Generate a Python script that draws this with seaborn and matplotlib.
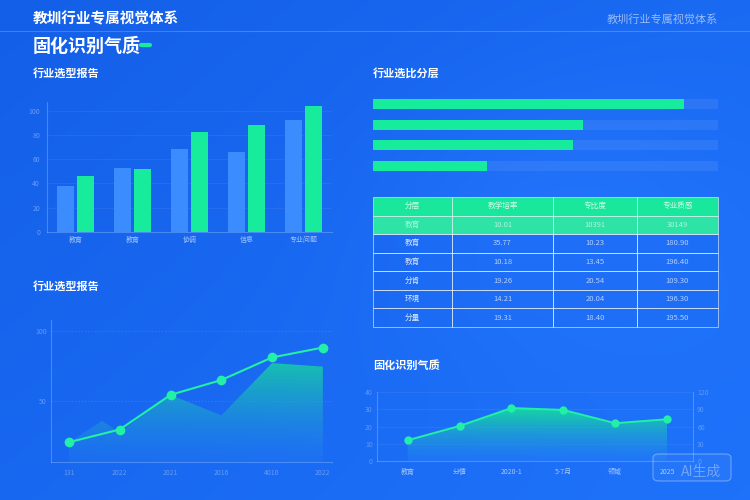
import numpy as np
import pandas as pd
import matplotlib
matplotlib.use("Agg")
import matplotlib.pyplot as plt
import seaborn as sns
from matplotlib.patches import FancyBboxPatch
from matplotlib.lines import Line2D

sns.set_theme(style="white")
plt.rcParams["font.family"] = ["Noto Sans CJK SC", "DejaVu Sans"]
plt.rcParams["axes.unicode_minus"] = False

# ---------------- data ----------------
header_title = "教圳行业专属视觉体系"
main_title = "固化识别气质"

bar_title = "行业选型报告"
bar_categories = ["教育", "教育", "协调", "信息", "专业问题"]
bar_blue = [38, 53, 68, 66, 92]
bar_green = [46, 52, 82, 88, 104]
bar_yticks = [0, 20, 40, 60, 80, 100]

progress_title = "行业选比分层"
progress_values = [90, 61, 58, 33]
progress_max = 100

table_headers = ["分层", "教学培率", "专比度", "专业质感"]
table_rows = [
    ["教育", "10.01", "10391", "30149"],
    ["教育", "35.77", "10.23", "180.90"],
    ["教育", "10.18", "13.45", "196.40"],
    ["分肯", "19.26", "20.54", "109.30"],
    ["环境", "14.21", "20.04", "196.30"],
    ["分量", "19.31", "18.40", "195.50"],
]

line_title = "行业选型报告"
line_labels = ["131", "2022", "2021", "2016", "4010", "2022"]
line_values = [21, 30, 54.5, 65, 81, 88]
area_x = [0, 0.65, 1, 2, 3, 4, 5]
area_values = [21, 36, 28, 54.5, 40, 77, 74.5]
line_yticks = [50, 100]

curve_title = "固化识别气质"
curve_labels = ["教育", "分情", "2020-1", "5-7月", "领域", "2025"]
curve_values = [12, 20.3, 30.7, 29.6, 21.9, 24.2]
curve_yticks = [0, 10, 20, 30, 40]
curve_right_ticks = [0, 30, 60, 90, 120]

watermark = "AI生成"

# ---------------- style ----------------
W, H = 750, 500
GREEN = "#17eb9c"
BLUE_BAR = "#3a8cff"
TICK = (0.62, 0.76, 1.0, 0.75)
SPINE = (0.65, 0.80, 1.0, 0.35)


def rect(x0, y0, x1, y1):
    return [x0 / W, 1 - y1 / H, (x1 - x0) / W, (y1 - y0) / H]


def fy(y):
    return 1 - y / H


fig = plt.figure(figsize=(7.5, 5), dpi=100)

# background gradient
bg = fig.add_axes([0, 0, 1, 1], zorder=-10)
yy, xx = np.mgrid[0:1:200j, 0:1:300j]
c0 = np.array([20, 95, 232]) / 255
c1 = np.array([30, 114, 250]) / 255
t = np.clip(0.55 * xx + 0.45 * yy, 0, 1)[..., None]
img = c0 * (1 - t) + c1 * t
bump = np.exp(-(((xx - 0.75) / 0.25) ** 2 + ((yy - 0.45) / 0.3) ** 2))[..., None] * 0.03
img = np.clip(img + bump, 0, 1)
bg.imshow(img, extent=[0, 1, 0, 1], aspect="auto", origin="upper")
bg.axis("off")

# header
fig.text(33 / W, fy(18), header_title, color="white", fontsize=10.5, fontweight="bold", va="center", ha="left")
fig.text(718 / W, fy(19), header_title, color=(1, 1, 1, 0.55), fontsize=8, va="center", ha="right")
fig.add_artist(Line2D([0, 1], [fy(31), fy(31)], transform=fig.transFigure, color="white", alpha=0.2, lw=0.8))
fig.text(33 / W, fy(46), main_title, color="white", fontsize=13, fontweight="bold", va="center", ha="left")
fig.add_artist(Line2D([141 / W, 150 / W], [fy(45), fy(45)], transform=fig.transFigure,
                      color=GREEN, lw=3, solid_capstyle="round"))

# panel titles
fig.text(33 / W, fy(73), bar_title, color="white", fontsize=8, fontweight="bold", va="center")
fig.text(373 / W, fy(73), progress_title, color="white", fontsize=8, fontweight="bold", va="center")
fig.text(33 / W, fy(286), line_title, color="white", fontsize=8, fontweight="bold", va="center")
fig.text(373 / W, fy(365), curve_title, color="white", fontsize=8, fontweight="bold", va="center")


def style_axes(ax, left=True, bottom=True):
    ax.set_facecolor("none")
    for s in ["top", "right"]:
        ax.spines[s].set_visible(False)
    ax.spines["left"].set_visible(left)
    ax.spines["bottom"].set_visible(bottom)
    for s in ["left", "bottom"]:
        ax.spines[s].set_color(SPINE)
        ax.spines[s].set_linewidth(0.8)
    ax.tick_params(colors=TICK, labelsize=5, length=0, pad=3)
    ax.set_xlabel("")
    ax.set_ylabel("")


# ---------------- bar chart ----------------
ax1 = fig.add_axes(rect(47, 102, 332, 232))
n = len(bar_categories)
df_bar = pd.DataFrame({
    "idx": list(range(n)) * 2,
    "val": bar_blue + bar_green,
    "series": ["a"] * n + ["b"] * n,
})
sns.barplot(data=df_bar, x="idx", y="val", hue="series", palette=[BLUE_BAR, GREEN],
            width=0.7, gap=0.15, saturation=1, legend=False, ax=ax1, zorder=3,
            edgecolor="none", linewidth=0)
ax1.set_ylim(0, 107)
ax1.set_xlim(-0.5, n - 0.5)
ax1.set_yticks(bar_yticks)
ax1.set_xticks(range(n))
ax1.set_xticklabels(bar_categories)
ax1.yaxis.grid(True, color="white", alpha=0.07, lw=0.6)
style_axes(ax1)
ax1.tick_params(axis="y", colors=(0.62, 0.76, 1.0, 0.6), pad=5)
ax1.tick_params(axis="x", labelsize=5, colors=(0.72, 0.83, 1.0, 0.85))

# ---------------- progress bars ----------------
ax2 = fig.add_axes(rect(373, 95, 718, 175))
m = len(progress_values)
sns.barplot(x=[progress_max] * m, y=list(range(m)), orient="h", color="white", alpha=0.07,
            width=0.49, saturation=1, ax=ax2, edgecolor="none", linewidth=0)
sns.barplot(x=progress_values, y=list(range(m)), orient="h", color=GREEN,
            width=0.49, saturation=1, ax=ax2, edgecolor="none", linewidth=0)
ax2.set_xlim(0, progress_max)
ax2.set_ylim(m - 0.55, -0.45)
ax2.axis("off")

# ---------------- table ----------------
ax3 = fig.add_axes(rect(373, 197, 718, 327))
ax3.axis("off")
tbl = ax3.table(cellText=table_rows, colLabels=table_headers, cellLoc="center",
                colWidths=[0.229, 0.293, 0.243, 0.235], bbox=[0, 0, 1, 1])
tbl.auto_set_font_size(False)
tbl.set_fontsize(5.5)
for (r, c), cell in tbl.get_celld().items():
    cell.set_edgecolor((1, 1, 1, 0.55))
    cell.set_linewidth(0.7)
    txt = cell.get_text()
    if r == 0:
        cell.set_facecolor("#19e89c")
        txt.set_color((1, 1, 1, 0.8))
    elif r == 1:
        cell.set_facecolor("#2ee3a6")
        txt.set_color((1, 1, 1, 0.6))
    else:
        cell.set_facecolor((0.1, 0.4, 0.95, 0.25))
        txt.set_color((1, 1, 1, 0.85) if c == 0 else (0.85, 0.9, 1, 0.8))

# ---------------- line + area chart ----------------
ax4 = fig.add_axes(rect(51, 320, 332, 462))
x4 = list(range(len(line_values)))
xl4 = (-0.354, 5.18)
yl4 = (7, 107.5)
poly = ax4.fill_between(area_x, area_values, y2=yl4[0], color="none", lw=0)
g = np.linspace(0, 1, 256)[:, None]
top = np.array([0.08, 0.86, 0.60, 0.92])
bot = np.array([0.15, 0.50, 0.95, 0.25])
grad = (bot * (1 - g) + top * g)[:, None, :].repeat(2, axis=1)
im4 = ax4.imshow(grad, extent=[xl4[0], xl4[1], yl4[0], 85], aspect="auto", origin="lower", zorder=1)
im4.set_clip_path(poly.get_paths()[0], transform=ax4.transData)
sns.lineplot(x=x4, y=line_values, ax=ax4, color="#22f0a6", lw=1.5, marker="o",
             markersize=7, markeredgewidth=0, zorder=4)
ax4.set_xlim(*xl4)
ax4.set_ylim(*yl4)
ax4.set_yticks(line_yticks)
ax4.set_xticks(x4)
ax4.set_xticklabels(line_labels)
ax4.yaxis.grid(True, color="white", alpha=0.12, lw=0.6, ls=(0, (2, 2)))
style_axes(ax4)
ax4.tick_params(axis="x", length=2, color=SPINE, colors=(0.62, 0.76, 1.0, 0.55))
ax4.tick_params(axis="y", colors=(0.62, 0.76, 1.0, 0.55))

# ---------------- bottom-right curve ----------------
ax5 = fig.add_axes(rect(377, 392, 693, 461))
x5 = list(range(len(curve_values)))
xl5 = (-0.59, 5.5)
poly5 = ax5.fill_between(x5, curve_values, y2=0, color="none", lw=0)
top5 = np.array([0.08, 0.90, 0.58, 0.95])
bot5 = np.array([0.15, 0.50, 0.98, 0.35])
grad5 = (bot5 * (1 - g) + top5 * g)[:, None, :].repeat(2, axis=1)
im5 = ax5.imshow(grad5, extent=[xl5[0], xl5[1], 0, 32], aspect="auto", origin="lower", zorder=1)
im5.set_clip_path(poly5.get_paths()[0], transform=ax5.transData)
sns.lineplot(x=x5, y=curve_values, ax=ax5, color="#22f0a6", lw=1.4, marker="o",
             markersize=6, markeredgewidth=0, zorder=4)
ax5.set_xlim(*xl5)
ax5.set_ylim(0, 40)
ax5.set_yticks(curve_yticks)
ax5.set_xticks(x5)
ax5.set_xticklabels(curve_labels)
ax5.yaxis.grid(True, color="white", alpha=0.07, lw=0.6)
style_axes(ax5)
ax5.tick_params(axis="x", colors=(0.78, 0.86, 1.0, 0.8), pad=5)
ax5.tick_params(axis="y", colors=(0.62, 0.76, 1.0, 0.5))
ax5r = ax5.twinx()
ax5r.set_ylim(0, 120)
ax5r.set_yticks(curve_right_ticks)
for s in ["top", "left", "bottom"]:
    ax5r.spines[s].set_visible(False)
ax5r.spines["right"].set_color(SPINE)
ax5r.spines["right"].set_linewidth(0.8)
ax5r.tick_params(colors=(0.62, 0.76, 1.0, 0.5), labelsize=5, length=0, pad=3)
ax5r.grid(False)

# watermark
fig.add_artist(FancyBboxPatch((653 / W, fy(481)), 78 / W, 27 / H, transform=fig.transFigure,
                              boxstyle="round,pad=0,rounding_size=0.008",
                              facecolor=(1, 1, 1, 0.04), edgecolor=(1, 1, 1, 0.3), lw=0.9))
fig.text(701 / W, fy(472), watermark, color=(1, 1, 1, 0.35), fontsize=10, ha="center", va="center")

fig.savefig("out.png", dpi=100)
